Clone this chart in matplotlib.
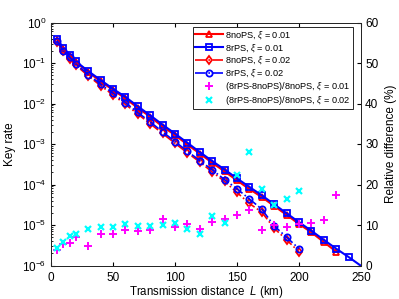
import numpy as np
import matplotlib.pyplot as plt
from matplotlib.ticker import LogLocator, NullFormatter

plt.rcParams['font.family'] = ['Liberation Sans', 'DejaVu Sans']
plt.rcParams['mathtext.fontset'] = 'custom'
plt.rcParams['mathtext.it'] = 'Liberation Sans:italic'

# transmission distance (km)
L_01 = [5, 10, 15, 20, 30, 40, 50, 60, 70, 80, 90, 100, 110, 120, 130, 140,
        150, 160, 170, 180, 190, 200, 210, 220, 230]
L_01_rps = L_01 + [240, 250]
L_02 = [5, 10, 15, 20, 30, 40, 50, 60, 70, 80, 90, 100, 110, 120, 130, 140,
        150, 160, 170, 180, 190, 200]

# key rates
noPS_01 = [3.8e-1, 2.2e-1, 1.5e-1, 1.05e-1, 6.0e-2, 3.5e-2, 2.17e-2, 1.33e-2,
           7.8e-3, 4.7e-3, 2.7e-3, 1.66e-3, 9.7e-4, 5.8e-4, 3.44e-4, 2.1e-4,
           1.26e-4, 7.7e-5, 4.9e-5, 2.94e-5, 1.78e-5, 1.06e-5, 6.6e-6, 3.8e-6,
           2.2e-6]
rPS_01 = [4.0e-1, 2.3e-1, 1.6e-1, 1.1e-1, 6.3e-2, 3.8e-2, 2.3e-2, 1.45e-2,
          8.5e-3, 5.1e-3, 3.0e-3, 1.8e-3, 1.07e-3, 6.3e-4, 3.8e-4, 2.34e-4,
          1.41e-4, 8.7e-5, 5.4e-5, 3.24e-5, 1.95e-5, 1.17e-5, 7.2e-6, 4.3e-6,
          2.6e-6, 1.62e-6, 9.8e-7]
noPS_02 = [3.25e-1, 1.93e-1, 1.28e-1, 8.85e-2, 4.82e-2, 2.76e-2, 1.63e-2,
           9.5e-3, 5.48e-3, 3.16e-3, 1.82e-3, 1.04e-3, 6.05e-4, 3.6e-4,
           2.04e-4, 1.19e-4, 6.35e-5, 3.4e-5, 2.07e-5, 8.3e-6, 4.3e-6, 2.17e-6]
rPS_02 = [3.4e-1, 2.0e-1, 1.4e-1, 9.5e-2, 5.2e-2, 3.0e-2, 1.8e-2, 1.05e-2,
          6.0e-3, 3.5e-3, 2.0e-3, 1.15e-3, 6.6e-4, 3.9e-4, 2.3e-4, 1.32e-4,
          7.8e-5, 4.4e-5, 2.45e-5, 9.5e-6, 5.0e-6, 2.6e-6]

# relative difference (%)
diff_01 = [3.8, 5.3, 5.6, 7.0, 4.9, 7.7, 7.8, 8.8, 8.6, 8.8, 11.4, 9.4, 10.2,
           8.9, 10.7, 11.6, 12.5, 13.8, 8.8, 10.0, 9.6, 10.3, 10.4, 11.3, 17.5]
diff_02 = [4.2, 5.9, 7.3, 7.9, 8.9, 9.4, 9.4, 10.2, 9.8, 9.8, 10.0, 10.6, 9.1,
           7.8, 12.2, 10.6, 22.3, 28.1, 18.8, 15.0, 16.3, 18.5]

fig = plt.figure(figsize=(3.99, 2.99), dpi=100)
ax = fig.add_axes([51 / 399, 1 - 265.5 / 299, 310 / 399, 243 / 299])
ax2 = ax.twinx()

ms = 4.5
l1, = ax.plot(L_01, noPS_01, '-', color='r', lw=1.5, marker='^', ms=ms,
              mfc='none', mew=1.3, label=r'8noPS, $\xi$ = 0.01')
l2, = ax.plot(L_01_rps, rPS_01, '-', color='b', lw=1.5, marker='s', ms=ms,
              mfc='none', mew=1.3, markevery=list(range(len(L_01_rps) - 1)),
              label=r'8rPS, $\xi$ = 0.01')
l3, = ax.plot(L_02, noPS_02, '-.', color='r', lw=1.2, marker='d', ms=ms,
              mfc='none', mew=1.3, label=r'8noPS, $\xi$ = 0.02')
l4, = ax.plot(L_02, rPS_02, '-.', color='b', lw=1.2, marker='o', ms=ms,
              mfc='none', mew=1.3, label=r'8rPS, $\xi$ = 0.02')
l5, = ax2.plot(L_01, diff_01, '+', color='#FF00FF', ms=6, mew=1.4,
               label=r'(8rPS-8noPS)/8noPS, $\xi$ = 0.01')
l6, = ax2.plot(L_02, diff_02, 'x', color='#00FFFF', ms=4.5, mew=1.6,
               label=r'(8rPS-8noPS)/8noPS, $\xi$ = 0.02')

ax.set_yscale('log')
ax.set_xlim(0, 250)
ax.set_ylim(1e-6, 1)
ax.set_yticks([1e-6, 1e-5, 1e-4, 1e-3, 1e-2, 1e-1, 1])
ax.yaxis.set_minor_locator(LogLocator(base=10, subs=np.arange(2, 10)))
ax.yaxis.set_minor_formatter(NullFormatter())
ax.set_xticks([0, 50, 100, 150, 200, 250])
ax2.set_ylim(0, 60)
ax2.set_yticks([0, 10, 20, 30, 40, 50, 60])

ax.tick_params(axis='x', which='both', direction='in', top=True, labelsize=8.5,
               length=3, pad=5)
ax.tick_params(axis='y', which='major', direction='in', labelsize=8.5, length=3,
               right=False)
ax.tick_params(axis='y', which='minor', direction='in', length=1.6, right=False)
ax2.tick_params(axis='y', direction='in', labelsize=8.5, length=3, pad=3)
for a in (ax, ax2):
    for s in a.spines.values():
        s.set_color('#262626')
        s.set_linewidth(0.7)

ax.set_xlabel(r'Transmission distance  $L$ (km)', fontsize=8.3, labelpad=0)
ax.set_ylabel('Key rate', fontsize=8.5, labelpad=4)
ax2.set_ylabel('Relative difference (%)', fontsize=8.5, labelpad=5)

leg = ax2.legend(handles=[l1, l2, l3, l4, l5, l6], loc='upper right',
                 bbox_to_anchor=(353 / 399, 1 - 27 / 299),
                 bbox_transform=fig.transFigure, fontsize=6.6, fancybox=False,
                 edgecolor='#262626', framealpha=1, handlelength=3.0,
                 handletextpad=0.25, borderpad=0.25, labelspacing=0.1,
                 borderaxespad=0)
leg.get_frame().set_linewidth(0.7)

fig.savefig('out.png', dpi=100)
